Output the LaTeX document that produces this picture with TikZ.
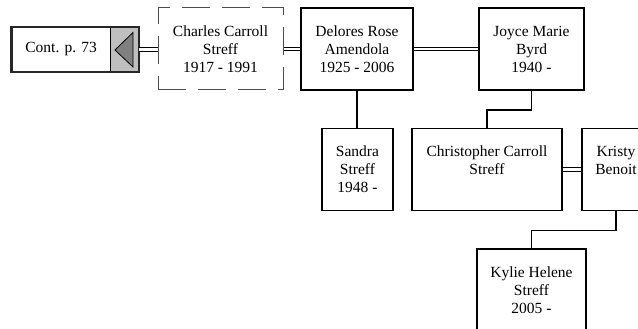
\documentclass[tikz,border=0pt]{standalone}
\usepackage{fontspec}
\setmainfont{Liberation Serif}
\usetikzlibrary{calc}

\begin{document}
\begin{tikzpicture}[x=1pt,y=-1pt,
  person/.style={draw,line width=1.8pt,minimum height=82pt,align=center,
    inner sep=0pt,font=\fontsize{15.5}{18}\selectfont},
  ghost/.style={person,line width=1pt,draw=black!70,dash pattern=on 28pt off 12pt},
  spouse/.style={double,line width=0.9pt,double distance=2.4pt},
  child/.style={line width=1.5pt}]
  \useasboundingbox (0,0) rectangle (638,329);
  \clip (0,0) rectangle (638,329);
  \node[fill=black!25,minimum width=28pt,minimum height=45pt,inner sep=0pt] (back) at (125,49.5) {};
  \node[minimum width=99pt,minimum height=45pt,inner sep=0pt,
    font=\fontsize{15.5}{18}\selectfont,anchor=east] (cont) at (back.west) {Cont. p. 73};
  \draw[line width=0.8pt] (back.north west) -- (back.south west);
  \draw[fill=black!50,line width=0.8pt,line join=miter]
    ($(back)+(-10,0.5)$) -- ($(back)+(8,-17)$) -- ($(back)+(8,17.5)$) -- cycle;
  \draw[line width=2.4pt,draw=black!85] (cont.north west) rectangle (back.south east);
  \node[ghost,minimum width=125pt] (charles) at (220.5,49) {Charles Carroll\\Streff\\1917 - 1991};
  \node[person,minimum width=112pt] (delores) at (357,49) {Delores Rose\\Amendola\\1925 - 2006};
  \node[person,minimum width=105pt] (joyce) at (531.5,49) {Joyce Marie\\Byrd\\1940 -};
  \node[person,minimum width=71pt] (sandra) at (357.5,169.5) {Sandra\\Streff\\1948 -};
  \node[person,minimum width=150pt] (chris) at (487,169.5) {Christopher Carroll\\Streff\\~};
  \node[person,minimum width=68pt] (kristy) at (616,169.5) {Kristy\\Benoit\\~};
  \node[person,minimum width=109pt] (kylie) at (531.5,290) {Kylie Helene\\Streff\\2005 -};
  \draw[spouse] (back.east) -- (back.east -| charles.west);
  \draw[spouse] (charles.east) -- (charles.east -| delores.west);
  \draw[spouse] (delores.east) -- (delores.east -| joyce.west);
  \draw[spouse] (chris.east) -- (chris.east -| kristy.west);
  \draw[child] (delores.south) -- (delores.south |- sandra.north);
  \draw[child] (joyce.south) -- ++(0,19) -| (chris.north);
  \draw[child] (kristy.south) -- ++(0,19) -| (kylie.north);
\end{tikzpicture}
\end{document}
